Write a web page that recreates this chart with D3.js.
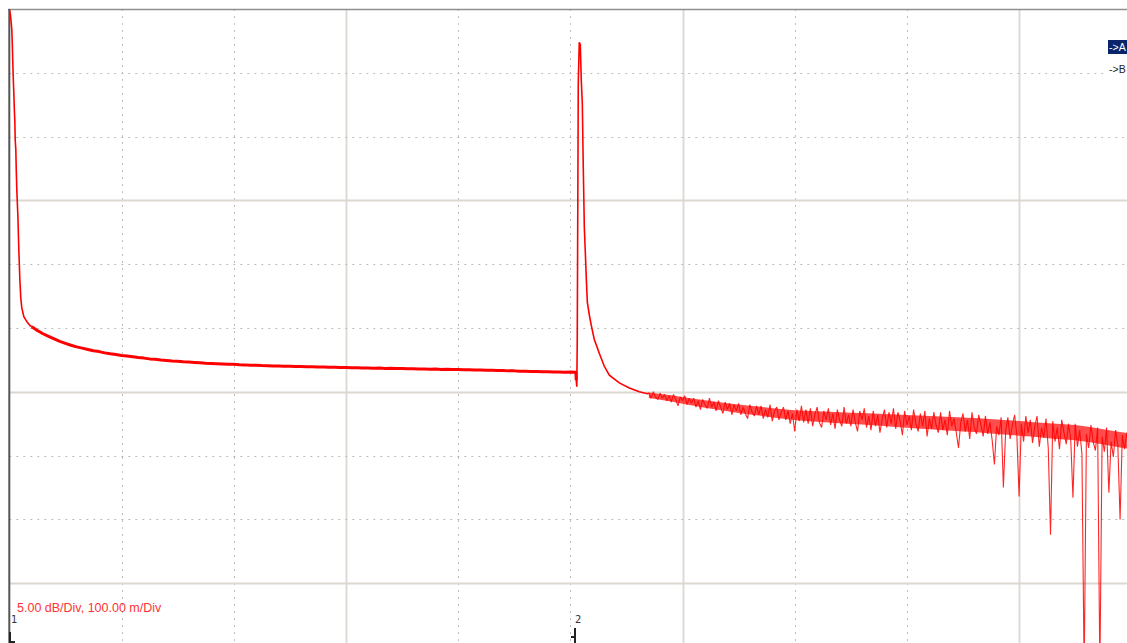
<!DOCTYPE html>
<html>
<head>
<meta charset="utf-8">
<script src="https://cdn.jsdelivr.net/npm/d3@7"></script>
<style>
  body { margin: 0; background: #fff; }
  svg { display: block; }
</style>
</head>
<body>
<svg id="otdr" width="1127" height="643"></svg>
<script>
// Scale settings
var dbPerDiv = 5,
  mPerDiv = 100,
  divisions = 10;

// Launch dead zone (distance m, level dB)
var launchDist = [0.4, 1.3, 2.2, 2.7, 3.1, 3.6, 4.0, 4.5, 4.9, 5.3, 5.8, 6.2, 6.7, 7.6, 8.5, 9.4, 10.2, 11.1, 12.9, 15.6, 18.3];
var launchLevel = [49.9, 49.3, 48.4, 47.2, 45.8, 44.4, 43.5, 42.1, 41.3, 39.7, 39.0, 37.4, 35.8, 33.9, 31.1, 28.8, 27.4, 26.6, 25.9, 25.5, 25.2];

// First fibre section, sampled every 5 m from 20 m
var fiber1Start = 20, fiber1Step = 5;
var fiber1Level = [25.1, 24.8, 24.55, 24.35, 24.15, 23.95, 23.8, 23.65, 23.52, 23.42,
  23.32, 23.22, 23.15, 23.05, 22.98, 22.92, 22.85, 22.8, 22.74, 22.68,
  22.64, 22.58, 22.55, 22.5, 22.46, 22.42, 22.4, 22.35, 22.33, 22.3,
  22.27, 22.24, 22.22, 22.2, 22.18, 22.16, 22.15, 22.12, 22.11, 22.09,
  22.08, 22.06, 22.05, 22.03, 22.03, 22.0, 22.0, 21.98, 21.99, 21.96,
  21.96, 21.94, 21.95, 21.92, 21.93, 21.9, 21.91, 21.88, 21.89, 21.87,
  21.87, 21.85, 21.86, 21.83, 21.84, 21.82, 21.83, 21.8, 21.81, 21.79,
  21.79, 21.77, 21.78, 21.75, 21.76, 21.74, 21.74, 21.72, 21.73, 21.7,
  21.71, 21.68, 21.69, 21.66, 21.67, 21.64, 21.64, 21.62, 21.62, 21.6,
  21.6, 21.58, 21.58, 21.56, 21.56, 21.54, 21.55, 21.54];

// Reflective event at the connector
var eventDist = [505.3, 505.8, 506.2, 506.7, 507.1, 508.0, 508.9, 509.8, 510.7, 511.6, 512.5, 513.4, 514.3, 515.2, 517.0, 518.7, 521.4, 525.9, 530.3, 534.8, 543.7, 552.6, 561.5, 568.6];
var eventLevel = [20.9, 20.4, 24.1, 35.0, 44.2, 47.4, 47.2, 44.4, 42.6, 37.4, 32.9, 30.9, 28.8, 27.0, 26.0, 25.2, 24.1, 23.0, 22.0, 21.3, 20.7, 20.3, 20.0, 19.85];

// Second fibre section (noisy), sampled every 2 m from 570 m
var fiber2Start = 570, fiber2Step = 2;
var fiber2Level = [19.9, 19.5, 20.0, 19.6, 19.4, 19.9, 19.5, 19.8, 19.3, 19.7,
  19.2, 19.8, 19.4, 18.9, 19.6, 19.3, 19.7, 19.0, 19.5, 19.1,
  19.5, 18.8, 19.3, 18.6, 19.4, 19.0, 18.7, 19.5, 18.8, 19.2,
  18.5, 19.3, 18.8, 18.3, 19.2, 18.6, 19.1, 18.2, 19.0, 18.5,
  19.1, 18.2, 18.8, 18.3, 17.9, 19.0, 18.4, 18.1, 18.9, 18.2,
  18.9, 17.9, 18.6, 18.0, 19.0, 17.7, 18.5, 18.8, 17.8, 18.4,
  18.8, 17.8, 18.5, 17.5, 18.3, 16.9, 18.6, 17.7, 18.9, 17.6,
  18.6, 17.5, 18.7, 17.3, 18.2, 18.8, 17.6, 17.2, 18.5, 17.8,
  18.7, 17.4, 18.3, 17.1, 18.6, 17.8, 17.3, 18.8, 17.5, 18.2,
  17.3, 18.6, 17.6, 16.9, 18.5, 17.8, 18.7, 17.2, 18.1, 17.0,
  18.5, 17.3, 18.2, 16.8, 17.9, 18.6, 17.2, 18.4, 17.5, 18.7,
  17.1, 18.4, 17.7, 16.6, 18.5, 17.4, 18.1, 17.0, 18.6, 17.5,
  16.9, 18.3, 17.3, 18.5, 16.5, 17.9, 17.1, 18.4, 17.4, 16.8,
  18.4, 17.0, 17.8, 16.6, 18.5, 17.3, 17.9, 16.8, 15.6, 17.6,
  18.3, 16.9, 17.8, 16.3, 18.4, 17.2, 16.7, 18.2, 17.4, 16.5,
  18.1, 16.7, 17.6, 16.2, 14.3, 17.3, 16.6, 18.0, 12.5, 16.9,
  18.0, 16.3, 17.4, 18.2, 16.6, 11.8, 17.5, 16.1, 18.1, 16.8,
  17.8, 16.0, 17.3, 18.1, 15.7, 17.2, 16.4, 17.9, 15.6, 8.8,
  17.7, 16.1, 17.2, 15.5, 17.8, 16.8, 15.9, 17.5, 16.3, 11.7,
  17.5, 15.7, 17.0, 15.1, -2.0, 16.7, 15.6, 17.4, 16.1, 15.4,
  17.2, -2.0, 16.5, 15.3, 17.2, 12.1, 16.1, 14.9, 17.0, 15.8,
  10.0, 16.6, 15.5, 16.8];

// Dense core of the noise band on the second section, every 20 m from 570 m
var bandStart = 570, bandStep = 20;
var bandUpper = [19.95, 19.72, 19.45, 19.23, 19.0, 18.82, 18.64, 18.51, 18.43, 18.35, 18.3, 18.22, 18.14, 18.06, 17.98, 17.88, 17.77, 17.64, 17.52, 17.39, 17.15, 16.85, 16.6];
var bandLower = [19.51, 19.24, 18.9, 18.61, 18.34, 18.12, 17.89, 17.72, 17.59, 17.47, 17.38, 17.25, 17.13, 17.0, 16.88, 16.78, 16.63, 16.5, 16.33, 16.2, 15.94, 15.64, 15.4];

// Cursor markers
var cursorLabels = ["1", "2"];
var cursorDist = [0.5, 504.5];

// Trace selection tags on the right
var traceTags = ["->A", "->B"];

var svg = d3.select("#otdr");
var plotLeft = 9.3, plotTop = 9, divW = 112.2, divH = 63.8;

var x = d3.scaleLinear()
  .domain([0, mPerDiv * divisions])
  .range([plotLeft, plotLeft + divW * divisions]);

var y = d3.scaleLinear()
  .domain([0, dbPerDiv * divisions])
  .range([plotTop + divH * divisions, plotTop]);

// Grid - solid every 3 divisions, dotted otherwise
var gridX = d3.range(1, divisions).map(function(i) { return i * mPerDiv; });
var gridY = d3.range(1, divisions).map(function(i) { return i * dbPerDiv; });

var grid = svg.append("g");

grid.selectAll(".gx")
  .data(gridX)
  .enter().append("line")
  .attr("x1", function(d) { return Math.round(x(d)) + 0.5; })
  .attr("x2", function(d) { return Math.round(x(d)) + 0.5; })
  .attr("y1", plotTop)
  .attr("y2", 643)
  .attr("stroke", function(d, i) { return (i + 1) % 3 == 0 ? "#dcd8d1" : "#bdbdb6"; })
  .attr("stroke-width", function(d, i) { return (i + 1) % 3 == 0 ? 1.8 : 1; })
  .attr("stroke-dasharray", function(d, i) { return (i + 1) % 3 == 0 ? null : "2,5"; });

grid.selectAll(".gy")
  .data(gridY)
  .enter().append("line")
  .attr("y1", function(d) { return Math.round(y(d)) + 0.5; })
  .attr("y2", function(d) { return Math.round(y(d)) + 0.5; })
  .attr("x1", plotLeft)
  .attr("x2", 1127)
  .attr("stroke", function(d, i) { return (divisions - 1 - i) % 3 == 0 ? "#dcd8d1" : "#bdbdb6"; })
  .attr("stroke-width", function(d, i) { return (divisions - 1 - i) % 3 == 0 ? 1.8 : 1; })
  .attr("stroke-dasharray", function(d, i) { return (divisions - 1 - i) % 3 == 0 ? null : "2,5"; });

// Frame: top border and left axis
svg.append("line")
  .attr("x1", 8).attr("x2", 1127)
  .attr("y1", 9.5).attr("y2", 9.5)
  .attr("stroke", "#8e8e8e")
  .attr("stroke-width", 1.5);

svg.append("line")
  .attr("x1", 9.3).attr("x2", 9.3)
  .attr("y1", 9).attr("y2", 643)
  .attr("stroke", "#555")
  .attr("stroke-width", 2);

// Trace
svg.append("clipPath").attr("id", "plotclip")
  .append("rect")
  .attr("x", plotLeft).attr("y", plotTop)
  .attr("width", 1127 - plotLeft).attr("height", 643 - plotTop);

var line = d3.line()
  .x(function(d) { return x(d[0]); })
  .y(function(d) { return y(d[1]); });

var launchPts = launchDist.map(function(d, i) { return [d, launchLevel[i]]; });
var fiber1Pts = fiber1Level.map(function(v, i) { return [fiber1Start + i * fiber1Step, v]; });
var eventPts = eventDist.map(function(d, i) { return [d, eventLevel[i]]; });
var fiber2Pts = fiber2Level.map(function(v, i) { return [fiber2Start + i * fiber2Step, v]; });
var bandPts = bandUpper.map(function(v, i) { return [bandStart + i * bandStep, v, bandLower[i]]; });

var trace = svg.append("g").attr("clip-path", "url(#plotclip)");

var band = d3.area()
  .x(function(d) { return x(d[0]); })
  .y0(function(d) { return y(d[2]); })
  .y1(function(d) { return y(d[1]); })
  .curve(d3.curveMonotoneX);

trace.append("path")
  .attr("d", band(bandPts))
  .attr("fill", "#ff0000")
  .attr("fill-opacity", 0.7);

trace.append("path")
  .attr("d", line(launchPts.concat([fiber1Pts[0]])))
  .attr("fill", "none")
  .attr("stroke", "#ff0000")
  .attr("stroke-width", 1.6);

trace.append("path")
  .attr("d", line(fiber1Pts.concat([eventPts[0]])))
  .attr("fill", "none")
  .attr("stroke", "#ff0000")
  .attr("stroke-width", 3)
  .attr("stroke-linejoin", "round");

trace.append("path")
  .attr("d", line(eventPts.concat([fiber2Pts[0]])))
  .attr("fill", "none")
  .attr("stroke", "#ff0000")
  .attr("stroke-width", 1.6);

trace.append("path")
  .attr("d", line(fiber2Pts))
  .attr("fill", "none")
  .attr("stroke", "#ff0000")
  .attr("stroke-opacity", 0.85)
  .attr("stroke-width", 1.1)
  .attr("stroke-linejoin", "bevel");

// Scale readout
svg.append("text")
  .attr("x", 17)
  .attr("y", 612)
  .attr("fill", "#ff3333")
  .style("font-family", "Liberation Sans, Arial, sans-serif")
  .style("font-size", "12.5px")
  .text(dbPerDiv.toFixed(2) + " dB/Div, " + mPerDiv.toFixed(2) + " m/Div");

// Cursors
var cur = svg.selectAll(".cursor")
  .data(cursorLabels)
  .enter().append("g")
  .attr("class", "cursor")
  .attr("transform", function(d, i) { return "translate(" + Math.round(x(cursorDist[i])) + ",0)"; });

cur.append("text")
  .attr("x", function(d, i) { return i == 0 ? 1 : 0; })
  .attr("y", 623)
  .attr("fill", "#333")
  .style("font-family", "DejaVu Sans, sans-serif")
  .style("font-size", "10px")
  .text(function(d) { return d; });

cur.append("path")
  .attr("d", function(d, i) { return i == 0 ? "M0,632V642H5" : "M0,628V643M-4,637H0"; })
  .attr("fill", "none")
  .attr("stroke", "#222")
  .attr("stroke-width", 2);

// Trace tags
var tags = svg.selectAll(".tag")
  .data(traceTags)
  .enter().append("g")
  .attr("class", "tag")
  .attr("transform", function(d, i) { return "translate(1108," + (40 + i * 22) + ")"; });

tags.append("rect")
  .attr("width", 22)
  .attr("height", 14)
  .attr("fill", function(d, i) { return i == 0 ? "#0a246a" : "#fff"; });

tags.append("text")
  .attr("x", 1)
  .attr("y", 11)
  .attr("fill", function(d, i) { return i == 0 ? "#fff" : "#222"; })
  .style("font-family", "Liberation Sans, Arial, sans-serif")
  .style("font-size", "10.5px")
  .text(function(d) { return d; });
</script>
</body>
</html>
